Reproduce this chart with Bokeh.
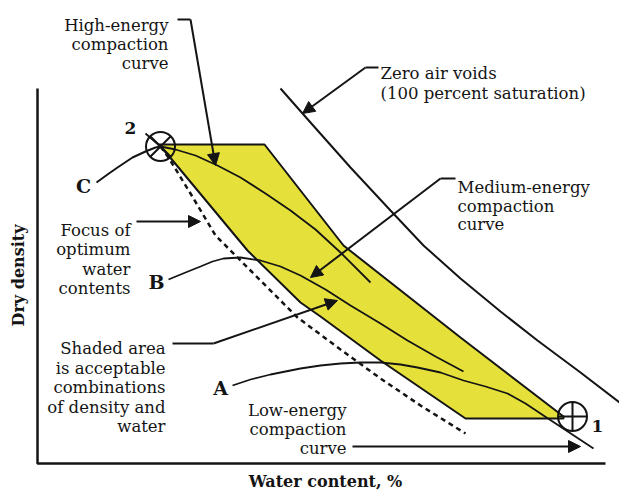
import math
from bokeh.plotting import figure
from bokeh.models import Range1d, Arrow, NormalHead
from bokeh.core.properties import value
from bokeh.embed import file_html
from bokeh.resources import INLINE

# ---- data (diagram coordinates: x = water content, y = dry density, screen-like units) ----
axis_x = [37, 37, 605]
axis_y = [88, 463, 463]

zav_x = [280, 310, 350, 390, 423, 460, 500, 537, 580, 619]
zav_y = [88, 122, 167, 210, 245, 278, 311, 340, 372, 402]

shade_x = [158, 264, 343, 460, 563, 563, 465, 380, 320, 300, 247, 168]
shade_y = [144, 144, 245, 337, 416, 418, 418, 360, 316, 302, 250, 155]

focus_x = [160, 168, 190, 215, 250, 297, 340, 380, 420, 465]
focus_y = [146, 157, 193, 235, 270, 317, 349, 378, 405, 433]

high_x = [160, 175, 195, 217, 240, 265, 290, 315, 340, 370]
high_y = [146, 149, 155, 165, 177, 193, 210, 229, 252, 282]

c_x = [96, 107, 117, 132, 145, 155, 160]
c_y = [182, 174, 167, 157, 151, 147, 146]

med_x = [168, 185, 200, 212, 223, 240, 260, 280, 300, 325, 350, 380, 407, 435, 463]
med_y = [279, 272, 266, 261, 258, 257, 260, 266, 275, 289, 305, 323, 340, 356, 371]

low_x = [232, 250, 270, 300, 320, 340, 360, 380, 400, 417, 440, 463, 485, 507, 525, 543, 593]
low_y = [385, 379, 374, 368, 365, 363, 362, 362, 364, 367, 372, 380, 386, 393, 403, 415, 448]

opt_pts_x = [160, 572]
opt_pts_y = [146, 416]

tick2_x = [145, 160]
tick2_y = [133, 146]

# leaders: plain segments, then arrow segments (start -> tip)
lead_x = [[177, 190], [378, 365], [455, 440], [172, 213]]
lead_y = [[19, 19], [67, 67], [178, 178], [343, 343]]
arrows = [  # x0, y0, x1, y1
    (190, 19, 215, 165),
    (365, 67, 302, 113),
    (440, 178, 310, 277),
    (136, 221, 200, 221),
    (213, 343, 337, 300),
    (352, 446, 580, 446),
]

lbl_high = ["High-energy", "compaction", "curve"]
lbl_zav = ["Zero air voids", "(100 percent saturation)"]
lbl_med = ["Medium-energy", "compaction", "curve"]
lbl_focus = ["Focus of", "optimum", "water", "contents"]
lbl_shade = ["Shaded area", "is acceptable", "combinations", "of density and", "water"]
lbl_low = ["Low-energy", "compaction", "curve"]
letters = ["C", "B", "A"]
letters_x = [83, 156, 220]
letters_y = [185, 281, 387]
nums = ["2", "1"]
nums_x = [130, 597]
nums_y = [127, 425]

FONT = value("DejaVu Serif")
INK = "#141414"
YELLOW = "#E6E13A"

p = figure(width=619, height=492, x_range=Range1d(0, 619), y_range=Range1d(492, 0),
           output_backend="svg", toolbar_location=None,
           x_axis_location=None, y_axis_location=None, min_border=0)
p.grid.visible = False
p.outline_line_color = None
p.background_fill_color = "white"
p.border_fill_color = "white"

# shaded region
p.patch(shade_x, shade_y, fill_color=YELLOW, line_color=INK, line_width=2)

# curves
p.line(zav_x, zav_y, line_color=INK, line_width=2)
p.line(focus_x, focus_y, line_color=INK, line_width=2.5, line_dash="5 4")
p.line(high_x, high_y, line_color=INK, line_width=1.8)
p.line(c_x, c_y, line_color=INK, line_width=2)
p.line(med_x, med_y, line_color=INK, line_width=1.8)
p.line(low_x, low_y, line_color=INK, line_width=1.8)
p.line(tick2_x, tick2_y, line_color=INK, line_width=1.8)

# axes lines
p.line(axis_x, axis_y, line_color=INK, line_width=2.5)

# optimum points
p.scatter(opt_pts_x[:1], opt_pts_y[:1], marker="circle_x", size=29,
          fill_color=None, line_color=INK, line_width=2)
p.scatter(opt_pts_x[1:], opt_pts_y[1:], marker="circle_cross", size=29,
          fill_color=None, line_color=INK, line_width=2)

# leaders
p.multi_line(lead_x, lead_y, line_color=INK, line_width=2)
for x0, y0, x1, y1 in arrows:
    p.add_layout(Arrow(x_start=x0, y_start=y0, x_end=x1, y_end=y1,
                       line_color=INK, line_width=2,
                       end=NormalHead(size=12, fill_color=INK, line_color=INK, line_width=1)))


def block(lines, x, y0, step, align):
    p.text(x=[x] * len(lines), y=[y0 + i * step for i in range(len(lines))], text=lines,
           text_font=FONT, text_font_size="16.5px", text_align=align,
           text_baseline="alphabetic", text_color=INK)


block(lbl_high, 168, 25, 19, "right")
block(lbl_zav, 380, 73, 20, "left")
block(lbl_med, 457, 187, 18.5, "left")
block(lbl_focus, 130, 230, 19.3, "right")
block(lbl_shade, 165, 348, 19.5, "right")
block(lbl_low, 346, 410, 19, "right")

p.text(x=letters_x, y=letters_y, text=letters, text_font=FONT, text_font_size="19px",
       text_font_style="bold", text_align="center", text_baseline="middle", text_color=INK)
p.text(x=nums_x, y=nums_y, text=nums, text_font=FONT, text_font_size="17px",
       text_font_style="bold", text_align="center", text_baseline="middle", text_color=INK)

p.text(x=[18], y=[275], text=["Dry density"], angle=math.pi / 2, text_font=FONT,
       text_font_size="16px", text_font_style="bold", text_align="center",
       text_baseline="middle", text_color=INK)
p.text(x=[325], y=[481], text=["Water content, %"], text_font=FONT,
       text_font_size="16px", text_font_style="bold", text_align="center",
       text_baseline="middle", text_color=INK)

open("out.html", "w").write(file_html(p, INLINE))
